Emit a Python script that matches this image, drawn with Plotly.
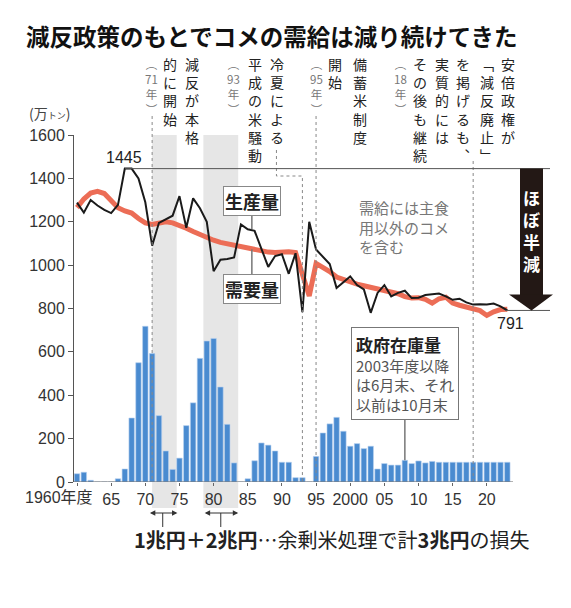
import plotly.graph_objects as go

# --- data (万トン) ---
YEARS = list(range(1960, 2024))

PRODUCTION = [
    1288, 1242, 1300, 1275, 1255, 1240, 1278, 1445, 1445, 1400,
    1290, 1090, 1195, 1210, 1228, 1318, 1172, 1308, 1262, 1200,
    972, 1025, 1028, 1035, 1188, 1165, 1158, 1075, 992, 1042,
    1050, 960, 1055, 783, 1200, 1072, 1040, 1005, 895, 920,
    948, 908, 888, 780, 872, 908, 856, 872, 882, 848,
    850, 862, 865, 869, 856, 840, 845, 828, 818, 820,
    818, 823, 810, 791,
]

DEMAND = [
    1265, 1305, 1332, 1340, 1330, 1300, 1265, 1250, 1240, 1215,
    1195, 1188, 1195, 1200, 1195, 1185, 1170, 1155, 1140, 1128,
    1115, 1105, 1098, 1090, 1085, 1078, 1070, 1063, 1060, 1058,
    1060, 1062, 1058, 960, 858, 1008, 990, 970, 945, 932,
    920, 912, 905, 898, 890, 885, 876, 868, 855, 848,
    850, 842, 825, 845, 852, 825, 815, 808, 800, 790,
    768, 785, 795, 796,
]

STOCK = [
    38, 45, 8, 0, 0, 0, 15, 60, 295, 550,
    718, 592, 306, 143, 58, 110, 260, 365, 570, 650,
    662, 438, 266, 88, 0, 15, 98, 180, 170, 143,
    91, 91, 20, 20, 0, 118, 226, 268, 298, 234,
    165, 177, 154, 165, 60, 85, 78, 78, 100, 85,
    97, 88, 95, 91, 91, 91, 91, 91, 91, 91,
    91, 91, 91, 91,
]

X_TICKS = [1960, 1965, 1970, 1975, 1980, 1985, 1990, 1995, 2000, 2005, 2010, 2015, 2020]
X_TICK_TEXT = ['', '65', '70', '75', '80', '85', '90', '95', '2000', '05', '10', '15', '20']
Y_TICKS = [0, 200, 400, 600, 800, 1000, 1200, 1400, 1600]

PEAK = 1445
LATEST = 791

JP = 'Noto Sans CJK JP'
NUM = 'Liberation Sans, Noto Sans CJK JP'

# plot area in pixels
L, R, T, B = 74, 550, 135, 482
W, H = 571, 608


def paper_x(px):
    return (px - L) / (R - L)


def paper_y(py):
    return (B - py) / (B - T)


def vertical(chars):
    return '<br>'.join(chars)


def year_note(num):
    # small "（NN年）" written top to bottom
    return vertical(['︵', num, '年', '︶'])


fig = go.Figure()

fig.add_trace(go.Bar(
    x=YEARS, y=STOCK, width=0.8,
    marker=dict(color='#4a8bd0', line=dict(color='#b8d2f0', width=0.6)),
))
fig.add_trace(go.Scatter(
    x=YEARS, y=DEMAND, mode='lines',
    line=dict(color='#ec6d56', width=5),
))
fig.add_trace(go.Scatter(
    x=YEARS, y=PRODUCTION, mode='lines',
    line=dict(color='#1a1a1a', width=2),
))

shapes = []
# grey bands for surplus-rice disposal periods
for x0, x1 in [(1971, 1974.6), (1978.5, 1983.6)]:
    shapes.append(dict(type='rect', xref='x', yref='paper', x0=x0, x1=x1,
                       y0=paper_y(508), y1=1, fillcolor='#e6e6e6',
                       line=dict(width=0), layer='below'))

dot = dict(color='#888', width=1, dash='dot')
shapes += [
    dict(type='line', xref='x', yref='paper', x0=1971, x1=1971,
         y0=paper_y(116), y1=0, line=dot),
    dict(type='path', xref='x', yref='paper',
         path=f'M 1989.2,{paper_y(150)} V {paper_y(176)} H 1993 V 0', line=dot),
    dict(type='line', xref='x', yref='paper', x0=1995, x1=1995,
         y0=paper_y(116), y1=0, line=dot),
    dict(type='line', xref='x', yref='paper', x0=2018, x1=2018,
         y0=paper_y(161), y1=0, line=dot),
]

# baseline of the bars
shapes.append(dict(type='line', xref='paper', yref='y', x0=0, x1=paper_x(513),
                   y0=0, y1=0, line=dict(color='#666', width=1)))

# peak and latest reference lines
shapes.append(dict(type='line', xref='paper', yref='y', x0=paper_x(125), x1=1,
                   y0=PEAK, y1=PEAK, line=dict(color='#555', width=1)))
shapes.append(dict(type='line', xref='paper', yref='y', x0=paper_x(505), x1=1,
                   y0=LATEST, y1=LATEST, line=dict(color='#555', width=1)))

# big "almost halved" arrow
shapes.append(dict(type='rect', xref='paper', yref='y', x0=paper_x(520), x1=paper_x(543),
                   y0=862, y1=PEAK, fillcolor='#231815', line=dict(width=0)))
shapes.append(dict(type='path', xref='paper', yref='y',
                   path=f'M {paper_x(509)},865 L {paper_x(553)},865 L {paper_x(531.5)},{LATEST} Z',
                   fillcolor='#231815', line=dict(width=0)))

# label connectors
conn = dict(color='#777', width=1.5)
shapes += [
    dict(type='line', xref='x', yref='y', x0=1985.6, x1=1985.6, y0=1165, y1=1290, line=conn),
    dict(type='line', xref='x', yref='y', x0=1985.6, x1=1985.6, y0=1073, y1=900, line=conn),
    dict(type='line', xref='x', yref='y', x0=2008, x1=2008, y0=100, y1=330, line=conn),
    dict(type='line', xref='x', yref='paper', x0=1972.55, x1=1972.55,
         y0=paper_y(513), y1=paper_y(527), line=dict(color='#333', width=1)),
    dict(type='line', xref='x', yref='paper', x0=1981.05, x1=1981.05,
         y0=paper_y(513), y1=paper_y(527), line=dict(color='#333', width=1)),
]

annotations = []

# vertical (tategaki) event notes
columns = [
    (151.7, year_note('71'), True),
    (170, vertical('的に開始'), False),
    (191.7, vertical('減反が本格'), False),
    (233.3, year_note('93'), True),
    (255, vertical('平成の米騒動'), False),
    (276.7, vertical('冷夏による'), False),
    (316.7, year_note('95'), True),
    (335, vertical('開始'), False),
    (360, vertical('備蓄米制度'), False),
    (400, year_note('18'), True),
    (420, vertical('その後も継続'), False),
    (441.7, vertical('実質的には'), False),
    (463.3, vertical('を掲げるも︑'), False),
    (486.7, vertical('﹁減反廃止﹂'), False),
    (508, vertical('安倍政権が'), False),
]
for px, text, small in columns:
    annotations.append(dict(
        xref='paper', yref='paper', x=paper_x(px), y=paper_y(54 if small else 52),
        xanchor='center', yanchor='top', showarrow=False, align='center',
        text=text,
        font=dict(family=JP, size=11.5 if small else 14, color='#777' if small else '#222'),
    ))

annotations += [
    dict(xref='paper', yref='paper', x=paper_x(531.5), y=paper_y(230),
         xanchor='center', yanchor='middle',
         text='<b>' + vertical('ほぼ半減') + '</b>', showarrow=False,
         font=dict(family=JP, size=17, color='white')),
    dict(xref='x', yref='y', x=1966.9, y=1498, text=str(PEAK), showarrow=False,
         font=dict(family=NUM, size=16, color='#222')),
    dict(xref='x', yref='y', x=2023.5, y=732, text=str(LATEST), showarrow=False,
         font=dict(family=NUM, size=16, color='#222')),
    dict(xref='x', yref='y', x=1985.6, y=1295, text='<b>生産量</b>', showarrow=False,
         font=dict(family=JP, size=18, color='#222'), bgcolor='white',
         bordercolor='#888', borderwidth=1, borderpad=1),
    dict(xref='x', yref='y', x=1985.6, y=889, text='<b>需要量</b>', showarrow=False,
         font=dict(family=JP, size=18, color='#222'), bgcolor='white',
         bordercolor='#888', borderwidth=1, borderpad=1),
    dict(xref='paper', yref='paper', x=paper_x(357), y=paper_y(195),
         xanchor='left', yanchor='top', align='left', showarrow=False,
         text='需給には主食<br>用以外のコメ<br>を含む',
         font=dict(family=JP, size=15, color='#777')),
    dict(xref='paper', yref='paper', x=paper_x(404.5), y=paper_y(373),
         xanchor='center', yanchor='middle', align='left', showarrow=False,
         text="<span style='font-size:17px;color:#222'><b>政府在庫量</b></span><br>"
              "2003年度以降<br>は6月末、それ<br>以前は10月末",
         font=dict(family=JP, size=15, color='#555'), bgcolor='white',
         bordercolor='#777', borderwidth=1, borderpad=4),
    dict(xref='paper', yref='paper', x=paper_x(49), y=paper_y(113),
         xanchor='center', yanchor='middle', showarrow=False,
         text="(万<span style='font-size:9px'>トン</span>)",
         font=dict(family=JP, size=14, color='#444')),
    dict(xref='paper', yref='paper', x=paper_x(95), y=paper_y(497),
         xanchor='right', yanchor='middle', showarrow=False, text='1960年度',
         font=dict(family=NUM, size=16, color='#333')),
    dict(xref='paper', yref='paper', x=paper_x(331), y=paper_y(539),
         xanchor='center', yanchor='middle', showarrow=False,
         text='<b>1兆円＋2兆円</b>…余剰米処理で計<b>3兆円</b>の損失',
         font=dict(family=JP, size=20, color='#222')),
]

# double-headed arrows under the grey bands
for x_end, width_px in [(1974.7, 29), (1983.6, 35)]:
    annotations.append(dict(
        xref='x', yref='paper', x=x_end, y=paper_y(513), ax=-width_px, ay=0,
        axref='pixel', ayref='pixel', text='', showarrow=True,
        arrowside='end+start', arrowhead=2, arrowsize=0.9, arrowwidth=1.2,
        arrowcolor='#333', standoff=0, startstandoff=0,
    ))

fig.update_layout(
    width=W, height=H,
    margin=dict(l=L, r=W - R, t=T, b=H - B),
    paper_bgcolor='white', plot_bgcolor='white',
    showlegend=False, bargap=0.2,
    title=dict(text='<b>減反政策のもとでコメの需給は減り続けてきた</b>',
               x=26 / W, xanchor='left', y=1 - 38 / H, yanchor='middle',
               font=dict(family=JP, size=23.5, color='#111')),
    xaxis=dict(range=[1959.56, 2029.25], showgrid=False, zeroline=False, showline=False,
               tickvals=X_TICKS, ticktext=X_TICK_TEXT, ticks='outside', ticklen=3,
               tickcolor='#666', tickfont=dict(family=NUM, size=16, color='#333')),
    yaxis=dict(range=[0, 1600], showgrid=False, zeroline=False, showline=True,
               linecolor='#555', linewidth=1, tickvals=Y_TICKS, ticks='outside',
               ticklen=5, tickcolor='#555',
               tickfont=dict(family=NUM, size=16, color='#333')),
    shapes=shapes,
    annotations=annotations,
)

# the page's default body margin would shift the whole chart by 8px
fig.write_html('out.html', config={'displayModeBar': False},
               post_script="document.body.style.margin = '0';")
